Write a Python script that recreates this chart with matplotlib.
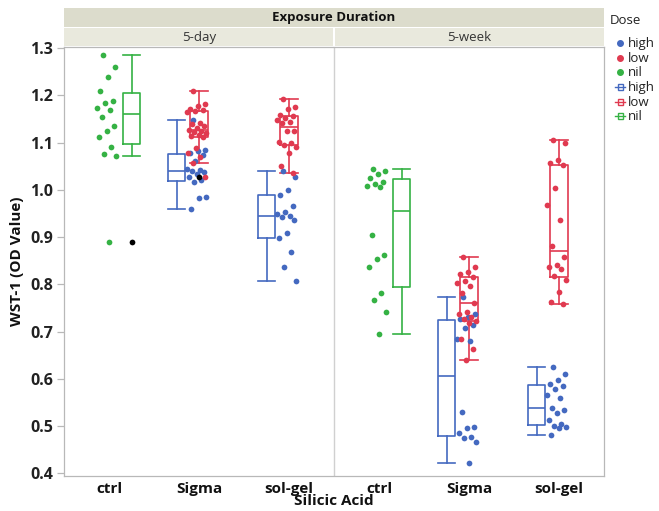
import numpy as np
import matplotlib
matplotlib.use("Agg")
import matplotlib.pyplot as plt
from matplotlib.patches import Rectangle
from matplotlib.lines import Line2D

plt.rcParams['font.family'] = ['Open Sans', 'DejaVu Sans']

# ---------------- data ----------------
durations = ["5-day", "5-week"]
acids = ["ctrl", "Sigma", "sol-gel"]
doses = ["high", "low", "nil"]

day5_ctrl_nil = [1.285, 1.260, 1.238, 1.210, 1.188, 1.184, 1.172, 1.169, 1.153,
                 1.135, 1.124, 1.112, 1.091, 1.075, 1.072, 0.890]
day5_sigma_high = [1.148, 1.084, 1.081, 1.077, 1.073, 1.060, 1.045, 1.042, 1.040,
                   1.038, 1.033, 1.026, 1.020, 1.017, 0.985, 0.983, 0.959]
day5_sigma_low = [1.208, 1.182, 1.177, 1.170, 1.168, 1.166, 1.165, 1.141, 1.139,
                  1.135, 1.130, 1.127, 1.125, 1.123, 1.120, 1.116, 1.113, 1.112,
                  1.088, 1.077, 1.070, 1.057, 1.027]
day5_solgel_high = [1.040, 1.028, 1.000, 0.990, 0.966, 0.952, 0.949, 0.945, 0.942,
                    0.937, 0.908, 0.899, 0.869, 0.836, 0.808]
day5_solgel_low = [1.192, 1.175, 1.170, 1.158, 1.156, 1.151, 1.148, 1.144, 1.141,
                   1.125, 1.125, 1.102, 1.098, 1.095, 1.090, 1.077, 1.050, 1.035]
week5_ctrl_nil = [1.045, 1.040, 1.033, 1.025, 1.017, 1.013, 1.009, 1.005, 0.904,
                  0.862, 0.853, 0.837, 0.781, 0.767, 0.742, 0.694]
week5_sigma_high = [0.774, 0.738, 0.731, 0.727, 0.714, 0.707, 0.685, 0.680, 0.530,
                    0.499, 0.496, 0.485, 0.476, 0.474, 0.467, 0.421]
week5_sigma_low = [0.857, 0.836, 0.827, 0.822, 0.815, 0.806, 0.802, 0.796, 0.781,
                   0.760, 0.742, 0.737, 0.731, 0.726, 0.723, 0.719, 0.684, 0.663, 0.639]
week5_solgel_high = [0.626, 0.611, 0.598, 0.590, 0.585, 0.578, 0.566, 0.560, 0.539,
                     0.533, 0.527, 0.512, 0.505, 0.500, 0.498, 0.495, 0.481]
week5_solgel_low = [1.105, 1.100, 1.063, 1.057, 1.052, 1.003, 0.968, 0.937, 0.882,
                    0.858, 0.841, 0.837, 0.832, 0.818, 0.809, 0.784, 0.763, 0.758]

groups = [
    (0, "ctrl", "nil", day5_ctrl_nil),
    (0, "Sigma", "high", day5_sigma_high),
    (0, "Sigma", "low", day5_sigma_low),
    (0, "sol-gel", "high", day5_solgel_high),
    (0, "sol-gel", "low", day5_solgel_low),
    (1, "ctrl", "nil", week5_ctrl_nil),
    (1, "Sigma", "high", week5_sigma_high),
    (1, "Sigma", "low", week5_sigma_low),
    (1, "sol-gel", "high", week5_solgel_high),
    (1, "sol-gel", "low", week5_solgel_low),
]

colors = {"high": "#4469c0", "low": "#e03a50", "nil": "#35b244"}
dodge = {"high": -0.25, "low": 0.0, "nil": 0.25}

# ---------------- figure ----------------
W, H = 659, 511
fig = plt.figure(figsize=(W / 100, H / 100), dpi=100)


def fx(x):
    return x / W


def fy(y):
    return 1 - y / H


L, R, T, B = 64, 604, 47, 476
ax = fig.add_axes([fx(L), fy(B), fx(R) - fx(L), fy(T) - fy(B)])
ax.set_xlim(0, 6)
ax.set_ylim(1.3 - (B - 48) / 472.6, 1.3 - (T - 48) / 472.6)

frame_col = "#b8b8b8"
for s in ax.spines.values():
    s.set_color(frame_col)
    s.set_linewidth(0.9)
ax.axvline(3, color="#d0d0d0", lw=1.0, zorder=1)

yt = np.round(np.arange(0.4, 1.31, 0.1), 1)
ax.set_yticks(yt)
ax.set_yticklabels([f"{v:.1f}" for v in yt], fontsize=11.5, fontweight="bold", color="#222222")
ax.tick_params(axis="y", length=5, color=frame_col, width=0.9, pad=3)

xt = [0.5, 1.5, 2.5, 3.5, 4.5, 5.5]
ax.set_xticks(xt)
ax.set_xticklabels(acids * 2, fontsize=11, fontweight="bold", color="#111111")
ax.tick_params(axis="x", length=0, pad=4)


def box_stats(vals):
    v = np.sort(np.asarray(vals))
    q1, med, q3 = np.percentile(v, [25, 50, 75], method="weibull")
    iqr = q3 - q1
    lo_f, hi_f = q1 - 1.5 * iqr, q3 + 1.5 * iqr
    inside = v[(v >= lo_f) & (v <= hi_f)]
    return dict(med=med, q1=q1, q3=q3, whislo=inside.min(), whishi=inside.max(),
                fliers=v[(v < lo_f) | (v > hi_f)])


bw = 0.19
for dur, acid, dose, vals in groups:
    center = dur * 3 + acids.index(acid) + 0.5
    c = colors[dose]
    st = box_stats(vals)
    bpos = center + dodge[dose]
    lp = dict(color=c, linewidth=1.2)
    ax.bxp([st], positions=[bpos], widths=bw, capwidths=bw, showfliers=False,
           boxprops=lp, whiskerprops=lp, capprops=lp, medianprops=lp,
           patch_artist=False, manage_ticks=False, zorder=2)
    n = len(vals)
    offs = (((np.arange(n) * 0.6180339887 + 0.3) % 1.0) - 0.5) * 0.22 - 0.02
    ax.scatter(center + offs, vals, s=17, color=c, linewidths=0, zorder=3)
    if len(st["fliers"]):
        ax.scatter([bpos] * len(st["fliers"]), st["fliers"], s=17, color="black",
                   linewidths=0, zorder=4)

# ---------------- header strips ----------------
fig.add_artist(Rectangle((fx(L), fy(27)), fx(R) - fx(L), fy(8) - fy(27),
                         transform=fig.transFigure, facecolor="#dcdccc", edgecolor="none"))
fig.add_artist(Rectangle((fx(L), fy(46)), fx(334) - fx(L) - 0.001, fy(28) - fy(46),
                         transform=fig.transFigure, facecolor="#e9e9dd", edgecolor="none"))
fig.add_artist(Rectangle((fx(335), fy(46)), fx(R) - fx(335), fy(28) - fy(46),
                         transform=fig.transFigure, facecolor="#e9e9dd", edgecolor="none"))
fig.text(fx((L + R) / 2), fy(17.5), "Exposure Duration", ha="center", va="center",
         fontsize=9.5, fontweight="bold", color="#111111")
fig.text(fx(199), fy(37.5), durations[0], ha="center", va="center", fontsize=9.5, color="#333333")
fig.text(fx(469), fy(37.5), durations[1], ha="center", va="center", fontsize=9.5, color="#333333")

# ---------------- axis titles ----------------
fig.text(fx(334), fy(501), "Silicic Acid", ha="center", va="center",
         fontsize=11, fontweight="bold", color="#111111")
fig.text(fx(17), fy(261), "WST-1 (OD Value)", ha="center", va="center", rotation=90,
         fontsize=11, fontweight="bold", color="#111111")

# ---------------- legend ----------------
fig.text(fx(610), fy(21), "Dose", ha="left", va="center", fontsize=9.5, color="#222222")
ly = [43, 58, 72, 87, 102, 116]
for i, d in enumerate(doses):
    y = ly[i]
    fig.add_artist(Line2D([fx(620)], [fy(y)], marker="o", markersize=4, color=colors[d],
                          linestyle="none", transform=fig.transFigure))
    fig.text(fx(628), fy(y), d, ha="left", va="center", fontsize=9.5, color="#222222")
for i, d in enumerate(doses):
    y = ly[3 + i]
    c = colors[d]
    fig.add_artist(Line2D([fx(615), fx(625)], [fy(y), fy(y)], color=c, lw=1.0,
                          transform=fig.transFigure))
    fig.add_artist(Rectangle((fx(617.5), fy(y + 3)), fx(5), fy(y - 3) - fy(y + 3),
                             transform=fig.transFigure, facecolor="white", edgecolor=c, lw=1.0))
    fig.text(fx(628), fy(y), d, ha="left", va="center", fontsize=9.5, color="#222222")

fig.savefig("out.png", dpi=100)
